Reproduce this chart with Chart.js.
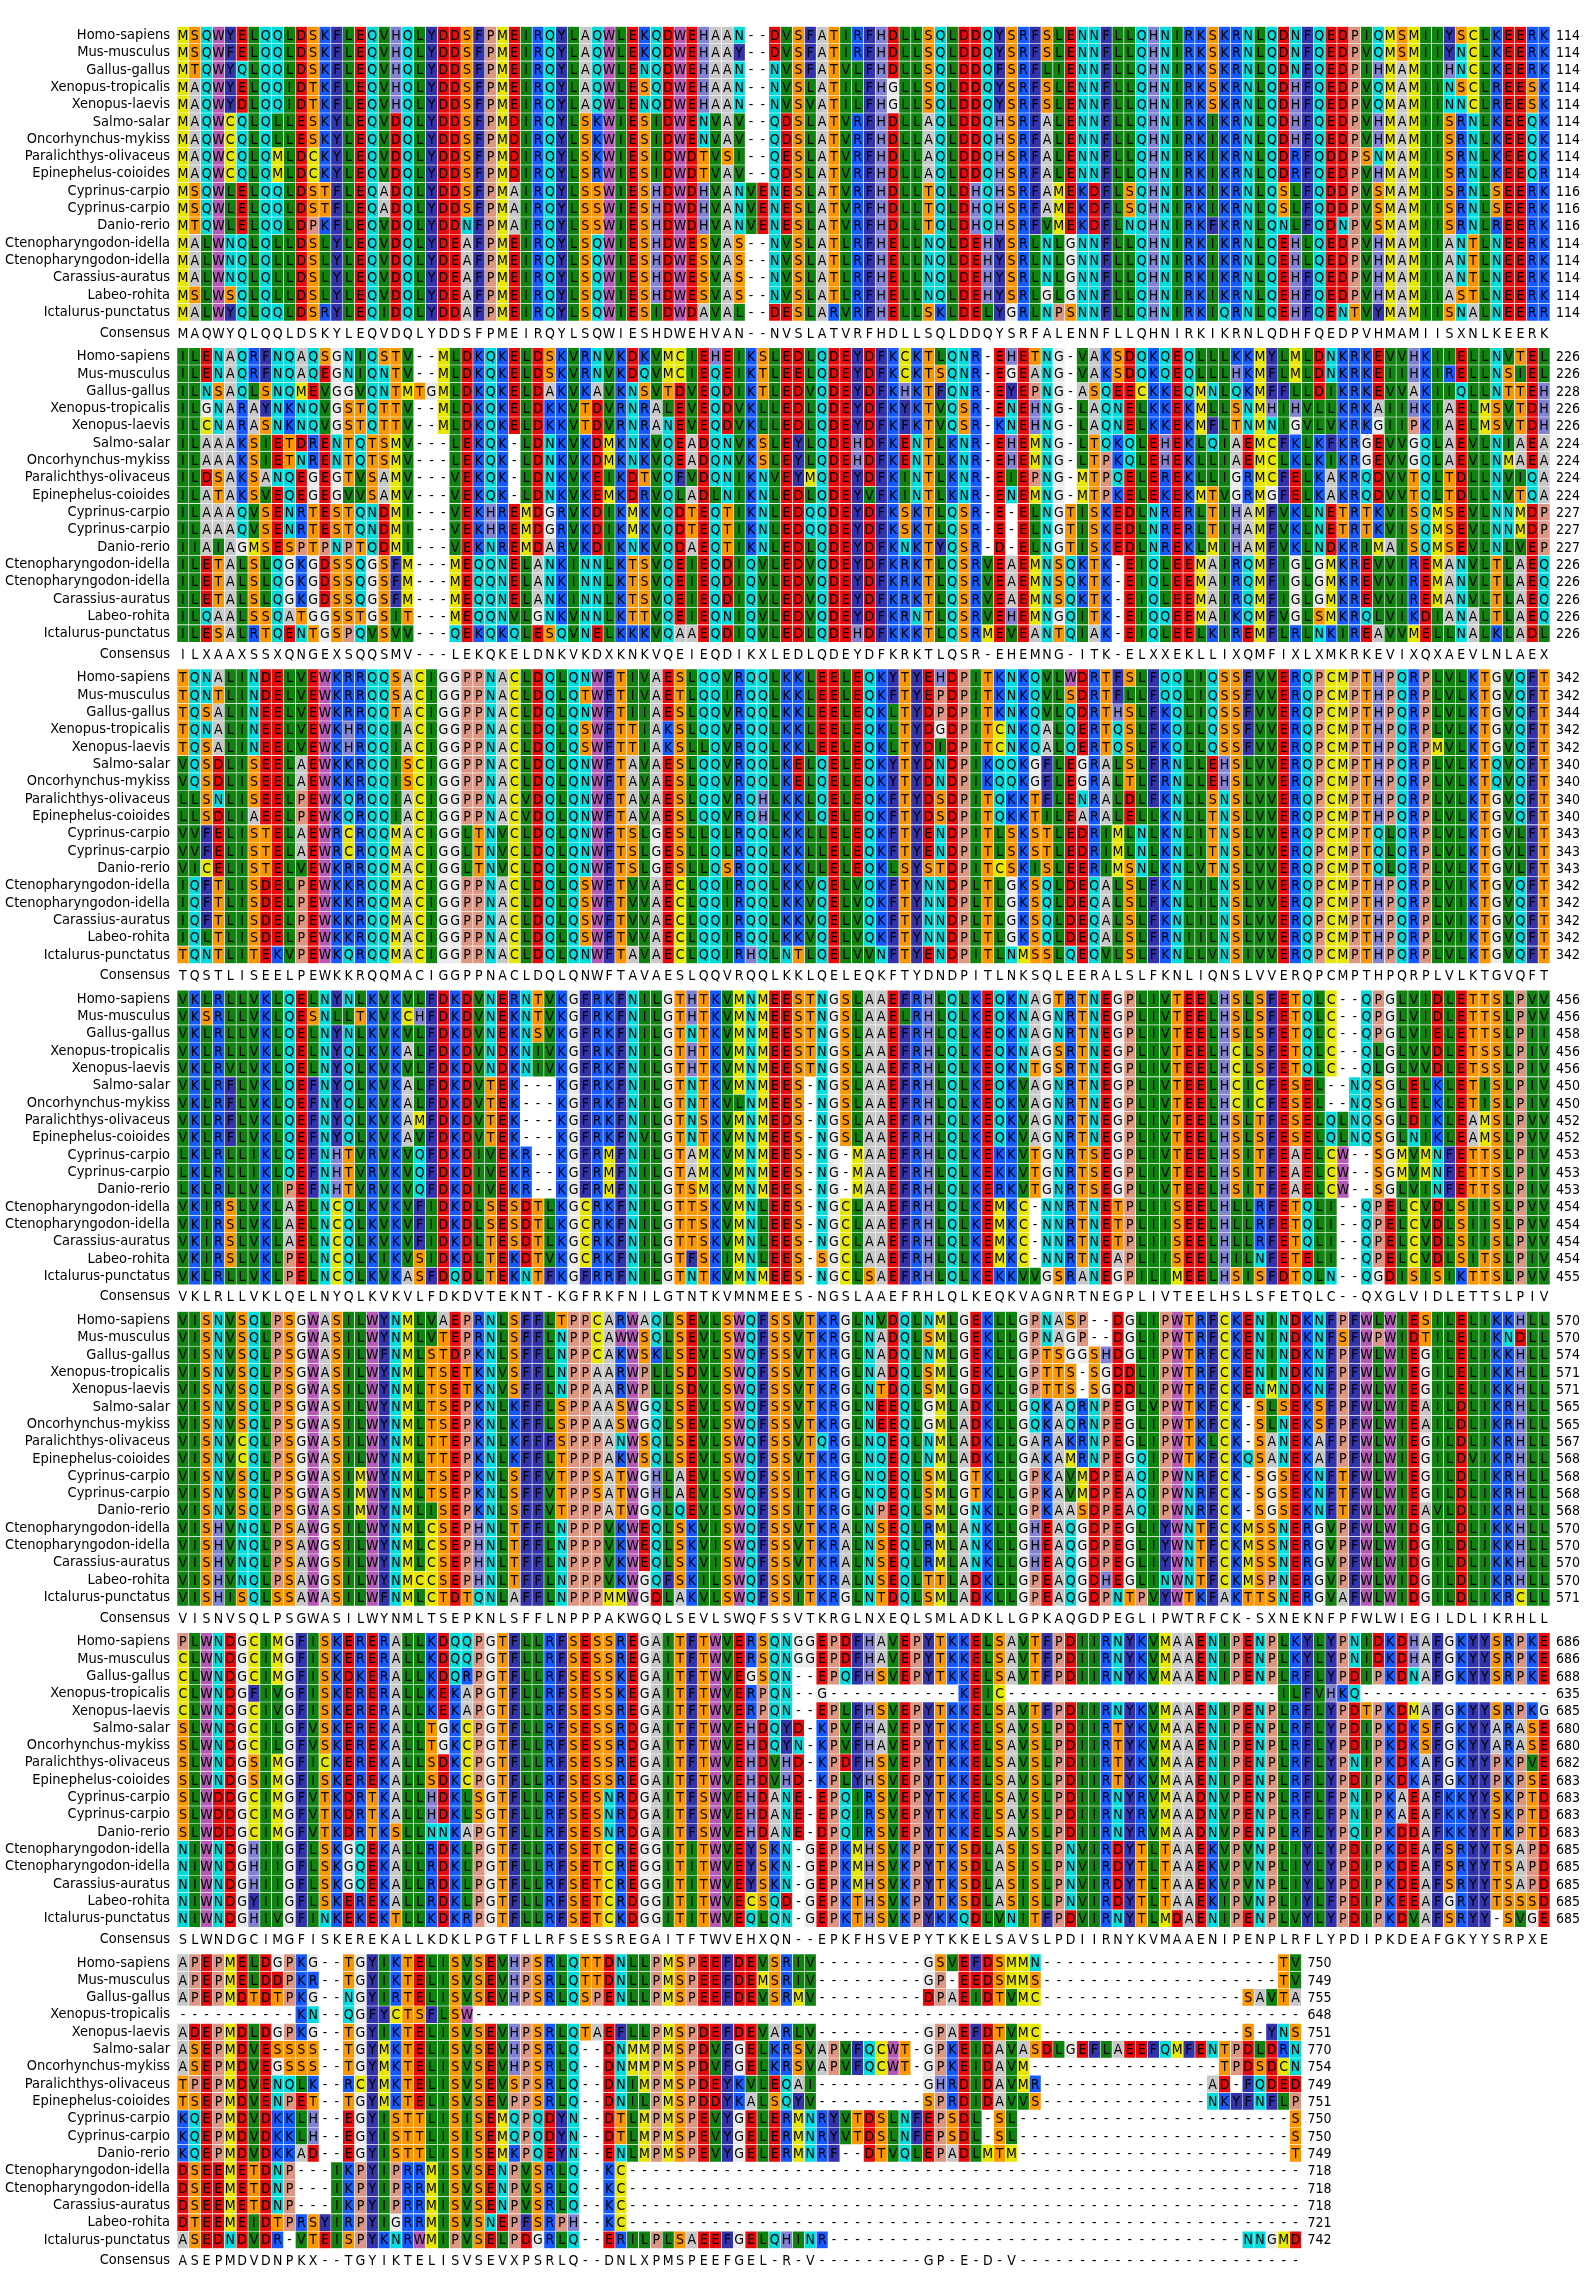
<!DOCTYPE html>
<html>
<head>
<meta charset="utf-8">
<title>STAT1 multiple sequence alignment</title>
<script src="https://cdn.jsdelivr.net/npm/chart.js@4.4.1/dist/chart.umd.min.js"></script>
<style>
  html, body { margin: 0; padding: 0; background: #ffffff; }
  #wrap { width: 1585px; height: 2295px; position: relative; }
  #warn { position: absolute; left: 600px; top: 0; color: red; font: 20px sans-serif; }
</style>
</head>
<body>
<div id="wrap"><canvas id="msa" width="1585" height="2295"></canvas><div id="warn"></div></div>
<script>
// species, top to bottom
const species = ['Homo-sapiens', 'Mus-musculus', 'Gallus-gallus', 'Xenopus-tropicalis', 'Xenopus-laevis',
  'Salmo-salar', 'Oncorhynchus-mykiss', 'Paralichthys-olivaceus', 'Epinephelus-coioides',
  'Cyprinus-carpio', 'Cyprinus-carpio', 'Danio-rerio', 'Ctenopharyngodon-idella',
  'Ctenopharyngodon-idella', 'Carassius-auratus', 'Labeo-rohita', 'Ictalurus-punctatus'];

// aligned residues, one string per species in each block
const block1 = [
  'MSQWYELQQLDSKFLEQVHQLYDDSFPMEIRQYLAQWLEKQDWEHAAN--DVSFATIRFHDLLSQLDDQYSRFSLENNFLLQHNIRKSKRNLQDNFQEDPIQMSMIIYSCLKEERK',
  'MSQWFELQQLDSKFLEQVHQLYDDSFPMEIRQYLAQWLEKQDWEHAAY--DVSFATIRFHDLLSQLDDQYSRFSLENNFLLQHNIRKSKRNLQDNFQEDPVQMSMIIYNCLKEERK',
  'MTQWYQLQQLDSKFLEQVHQLYDDSFPMEIRQYLAQWLENQDWEHAAN--NVSFATVLFHDLLSQLDDQFSRFLIENNFLLQHNIRKSKRNLQDNFQEDPIHMAMIIHNCLKEERK',
  'MAQWYELQQIDTKFLEQVHQLYDDSFPMEIRQYLAQWLESQDWEHAAN--NVSLATILFHGLLSQLDDQYSRFSLENNFLLQHNIRKSKRNLQDHFQEDPVQMAMIINSCLREESK',
  'MAQWYDLQQIDTKFLEQVHQLYDDSFPMEIRQYLAQWLENQDWEHAAN--NVSVATILFHGLLSQLDDQYSRFSLENNFLLQHNIRKSKRNLQDHFQEDPVQMAMIINNCLREESK',
  'MAQWCQLQLLESKYLEQVDQLYDDSFPMDIRQYLSKWIESIDWENVAV--QDSLATVRFHDLLAQLDDQHSRFALENNFLLQHNIRKIKRNLQDHFQEDPVHMAMIISRNLKEEQK',
  'MAQWCQLQLLESKYLEQVDQLYDDSFPMDIRQYLSKWIESIDWENVAV--QDSLATVRFHDLLAQLDDQHSRFALENNFLLQHNIRKIKRNLQDHFQEDPVHMAMIISRNLKEEQK',
  'MAQWCQLQMLDCKYLEQVDQLYDDSFPMDIRQYLSKWIESIDWDTVSI--QESLATVRFHDLLAQLDDQHSRFALENNFLLQHNIRKIKRNLQDRFQDDPSNMAMIISRNLKEEQK',
  'MAQWCQLQMLDCKYLEQVDQLYDDSFPMDIRQYLSRWIESIDWDTVAV--QDSLATVRFHDLLAQLDDQHSRFALENNFLLQHNIRKIKRNLQDRFQEDPVHMAMIISRNLKEEQR',
  'MSQWLELQQLDSTFLEQADQLYDDSFPMAIRQYLSSWIESHDWDHVANVENESLATVRFHDLLTQLDHQHSRFAMEKDFLSQHNIRKIKRNLQSLFQDDPVSMAMIISRNLSEERK',
  'MSQWLELQQLDSTFLEQADQLYDDSFPMAIRQYLSSWIESHDWDHVANVENESLATVRFHDLLTQLDHQHSRFAMEKDFLSQHNIRKIKRNLQSLFQDDPVSMAMIISRNLSEERK',
  'MTQWLELQQLDPKFLEQVDQLYDDNFPMAIRQYLSSWIESHDWDHVANVENESLATVRFHDLLTQLDHQHSRFVMEKDFLNQHNIRKFKRNLQNLFQDNPVSMAMIISRNLREERK',
  'MALWNQLQLLDSLYLEQVDQLYDEAFPMEIRQYLSQWIESHDWESVAS--NVSLATLRFHELLNQLDEHYSRLNLGNNFLLQHNIRKIKRNLQEHLQEDPVHMAMIIANTLNEERK',
  'MALWNQLQLLDSLYLEQVDQLYDEAFPMEIRQYLSQWIESHDWESVAS--NVSLATLRFHELLNQLDEHYSRLNLGNNFLLQHNIRKIKRNLQEHLQEDPVHMAMIIANTLNEERK',
  'MALWNQLQLLDSLYLEQVDQLYDEAFPMEIRQYLSQWIESHDWESVAS--NVSLATLRFHELLNQLDEHYSRLNLGNNFLLQHNIRKIKRNLQEHFQEDPVHMAMIIANTLNEERK',
  'MSLWSQLQLLDSLYLEQVDQLYDEAFPMEIRQYLSQWIESHDWESVAS--NVSLATLRFHELLNQLDEHYSRLGLGNNFLLQHNIRKIKRNLQEHFQEDPVHMAMIIASTLNEERK',
  'MALWYQLQQLDSRYLEQIDQLYDDAFPMEIRQYLSQWIESIDWDAVAL--DESLARVRFHELLSKLDELYGRLNPSNNFLLQHNIRKIQRNLQEHFQENTVYMAMIISNALNEERR'];

const block2 = [
  'ILENAQRFNQAQSGNIQSTV--MLDKQKELDSKVRNVKDKVMCIEHEIKSLEDLQDEYDFKCKTLQNR-EHETNG-VAKSDQKQEQLLLKKMYLMLDNKRKEVVHKIIELLNVTEL',
  'ILENAQRFNQAQEGNIQNTV--MLDKQKELDSKVRNVKDQVMCIEQEIKTLEELQDEYDFKCKTSQNR-EGEANG-VAKSDQKQEQLLLHKMFLMLDNKRKEIIHKIRELLNSIEL',
  'ILNSAQLSNQMEVGGVQNTMTGMLDKQKELDAKVKAVKNSVTDVEQDIKTLEDVQDEYDFKHKTFQNR-EYEPNG-ASQEECKKEQMNLQKMFFLLDIKRKEVVAKIIQLLNTTEH',
  'ILGNARAYNKNQVGSTQTTV--MLDKQKELDKKVTDVRNRALEVEQDVKLLEDLQDEYDFKYKTVQSR-ENEHNG-LAQNELKKEKMLLSNMHIHVLLKRKAIIHKIAELMSVTDH',
  'ILCNARASNKNQVGSTQTTV--MLDKQKELDKKVTDVRNRANEVEQDVKLLEDLQDEYDFKFKTVQSR-KNEHNG-LAQNELKKEKMFLTNMNIGVLVKRKGIIPKIAELMSVTDH',
  'ILAAAKSIETDRENTQTSMV---LEKQK-LDNKVKDMKNKVQEADQNVKSLEYLQDEHDFKENTLKNR-EHEMNG-LTQKQLEHEKLQIAEMCFKLKFKRGEVVGQLAEVLNIAEA',
  'ILAAAKSIETNRENTQTSMV---LEKQK-LDNKVKDMKNKVQEADQNVKSLEYLQDEHDFKENTLKNR-EHEMNG-LTPKQLEHEKLLIAEMCLKLKIKRGEVVGQLAEVLNMAEA',
  'ILDSAKSANQEGEGTVSAMV---VEKQK-LDNKVKEIKDTVQFVDQNIKNVEYMQDEYDFKINTLKNR-EIEPNG-MTPQELEREKLLIGRMCFELKAKRQDVVTQLTDLLNVIQA',
  'ILATAKSVEQEGEGVVSAMV---VEKQK-LDNKVKEMKDRVQLADLNIKNLEDLQDEYVFKINTLKNR-ENEMNG-MTPKELEKEKMTVGRMGFELKAKRQDVVTQLTDLLNVTQA',
  'ILAAAQVSENRTESTQNDMI---VEKHREMDGRVKDIKMKVQDTEQTIKNLEDQQDEYDFKSKTLQSR-E-ELNGTISKEDLNRERLTIHAMFVKLNETRTKVISQMSEVLNNMDP',
  'ILAAAQVSENRTESTQNDMI---VEKHREMDGRVKDIKMKVQDTEQTIKNLEDQQDEYDFKSKTLQSR-E-ELNGTISKEDLNRERLTIHAMFVKLNETRTKVISQMSEVLNNMDP',
  'IIAIAGMSESPTPNPTQDMI---VEKNREMDARVKDIKNKVQDAEQTIKNLEDLQDEYDFKNKTYQSR-D-ELNGTISKEDLNREKLMIHAMFVKLNDKRIMAISQMSEVLNLVEP',
  'ILETALSLQGKGDSSQGSFM---MEQQNELANKINNLKTSVQEIEQDIQVLEDVQDEYDFKRKTLQSRVEAEMNSQKTK-EIQLEEMAIRQMFIGLGMKREVVIREMANVLTLAEQ',
  'ILETALSLQGKGDSSQGSFM---MEQQNELANKINNLKTSVQEIEQDIQVLEDVQDEYDFKRKTLQSRVEAEMNSQKTK-EIQLEEMAIRQMFIGLGMKREVVIREMANVLTLAEQ',
  'ILETALSLQGKGDSSQGSFM---MEQQNELANKINNLKTSVQEIEQDIQVLEDVQDEYDFKRKTLQSRVEAEMNSQKTK-EIQLEEMAIRQMFIGLGMKREVVIREMANVLTLAEQ',
  'ILQAALSSQATGGSSTGSIT---MEQQNVLGNKVNNLKTTVQEIEQNIQVLEDVQDEYDFKRNTLQSRVEHEMNGQITK-EIQQEEMAIKQMFVGLSMKRQLVIKDIANALTLAEQ',
  'ILESALRTQENTGSPQVSVV---QEKQKQLESQVNELKKKVQAAEQDIQVLEDLQDEHDFKKKTLQSRMEVEANTQIAK-EIQLEELKIREMFLRLNKIREAVVMELLNALKLADL'];

const block3 = [
  'TQNALINDELVEWKRRQQSACIGGPPNACLDQLQNWFTIVAESLQQVRQQLKKLEELEQKYTYEHDPITKNKQVLWDRTFSLFQQLIQSSFVVERQPCMPTHPQRPLVLKTGVQFT',
  'TQNTLINDELVEWKRRQQSACIGGPPNACLDQLQTWFTIVAETLQQIRQQLKKLEELEQKFTYEPDPITKNKQVLSDRTFLLFQQLIQSSFVVERQPCMPTHPQRPLVLKTGVQFT',
  'TQSALINEELVEWKRRQQTACIGGPPNACLDQLQNWFTIIAESLQQVRQQLKKLEELEQKLTYDPDPITKNKQVLQDRTHSLFKQLIQSSFVVERQPCMPTHPQRPLVLKTGVQFT',
  'TQNALINEELVEWKHRQQIACIGGPPNACLDQLQSWFTTIAKSLQQVRQQLKKLEELEQKLTYDGDPITCNKQALQERTQSLFKQLLQSSFVVERQPCMPTHPQRPLVLKTGVQFT',
  'TQSALINEELVEWKHRQQIACIGGPPNACLDQLQSWFTTIAKSLLQVRQQLKKLEELEQKLTYDIDPITCNKQALQERTQSLFKQLLQSSFVVERQPCMPTHPQRPMVLKTGVQFT',
  'VQSDLISEELAEWKKRQQISCIGGPPNACLDQLQNWFTAVAESLQQVRQQLKELQELEQKYTYDNDPIKQQKGFLEGRALSLFRNLLEHSLVVERQPCMPTHPQRPLVLKTQVQFT',
  'VQSDLISEELAEWKKRQQISCIGGPPNACLDQLQNWFTAVAESLQQVRQQLKELQELEQKYTYDNDPIKQQKGFLEGRALTLFRNLLEHSLVVERQPCMPTHPQRPLVLKTQVQFT',
  'LLSNLISEELPEWKQRQQIACIGGPPNACVDQLQNWFTAVAESLQQVRQHLKKLQELEQKFTYDSDPITQKKTFLENRALDLFKNLLSNSLVVERQPCMPTHPQRPLVLKTGVQFT',
  'LLSDLIAEELPEWKQRQQIACIGGPPNACVDQLQNWFTAVAESLQQVRQHLKKLQELEQKFTYDSDPITQKKTILEARALELLKNLLTNSLVVERQPCMPTHPQRPLVLKTGVQFT',
  'VVFELISTELAEWRCRQQMACIGGLTNVCLDQLQNWFTSLGESLLQLRQQLKKLLELEQKFTYENDPITLSKSTLEDRIMLNLKNLITNSLVVERQPCMPTQLQRPLVLKTGVLFT',
  'VVFELISTELAEWRCRQQMACIGGLTNVCLDQLQNWFTSLGESLLQLRQQLKKLLELEQKFTYENDPITLSKSTLEDRIMLNLKNLITNSLVVERQPCMPTQLQRPLVLKTGVLFT',
  'VICELISTELVEWKRRQQMACIGGLTNVCLDQLQNWFTSLGESLLQSRQQLKKLLELEQKLSYSTDPITCSKISLEERIMSNLKNLVTNSLVVERQPCMPTQLQRPLVLKTGVLFT',
  'IQFTLISDELPEWKKRQQMACIGGPPNACLDQLQSWFTVVAECLQQIRQQLKKVQELVQKFTYNNDPLTLGKSQLDEQALSLFKNLILNSLVVERQPCMPTHPQRPLVIKTGVQFT',
  'IQFTLISDELPEWKKRQQMACIGGPPNACLDQLQSWFTVVAECLQQIRQQLKKVQELVQKFTYNNDPLTLGKSQLDEQALSLFKNLILNSLVVERQPCMPTHPQRPLVIKTGVQFT',
  'IQFTLISDELPEWKKRQQMACIGGPPNACLDQLQSWFTVVAECLQQIRQQLKKVQELVQKFTYNNDPLTLGKSQLDEQALSLFKNLILNSLVVERQPCMPTHPQRPLVIKTGVQFT',
  'IQLTLISDELPEWKKRQQMACIGGPPNACLDQLQSWFTVVAECLQQIRQQLKKVQELVQKFTYNNDPLTLGKSQLDEQALSLFRNIILNSLVVERQPCMPTHPQRPLVIKTGVQFT',
  'TQNTLITEKVPEWKQRQQMACIGGPPNACLDQLQNWFTAVAECLQQIRHQLNTLQELVVNFTYENDPITLNMSSLQEQVLSLFKNLLVNSIVVERQPCMPTHPQRPLVLKTGVQFT'];

const block4 = [
  'VKLRLLVKLQELNYNLKVKVLFDKDVNERNTVKGFRKFNILGTHTKVMNMEESTNGSLAAEFRHLQLKEQKNAGTRTNEGPLIVTEELHSLSFETQLC--QPGLVIDLETTSLPVV',
  'VKSRLLVKLQESNLLTKVKCHFDKDVNEKNTVKGFRKFNILGTHTKVMNMEESTNGSLAAELRHLQLKEQKNAGNRTNEGPLIVTEELHSLSFETQLC--QPGLVIDLETTSLPVV',
  'VKLRLLVKLQELNYNLKVKVLFDKDVNEKNSVKGFRKFNILGTNTKVMNMEESTNGSLAAEFRHLQLKEQKNAGNRTNEGPLIVTEELHSLSFETQLC--QPGLVIELETTSLPII',
  'VKLRLLVKLQELNYQLKVKALFDKDVNDKNIVKGFRKFNILGTHTKVMNMEESTNGSLAAEFRHLQLKEQKNAGSRTNEGPLIVTEELHCLSFETQLC--QLGLVVDLETSSLPIV',
  'VKLRVLVKLQELNYQLKVKVLFDKDVNDKNIVKGFRKFNILGTHTKVMNMEESTNGSLAAEFRHLQLKEQKNTGSRTNEGPLIVTEELHCLSFETQLC--QLGLVVDLETSSLPIV',
  'VKLRFLVKLQEFNYQLKVKALFDKDVTEK---KGFRKFNILGTNTKVMNMEES-NGSLAAEFRHLQLKEQKVAGNRTNEGPLIVTEELHCICFESEL--NQSGLELKLETISLPIV',
  'VKLRFLVKLQEFNYQLKVKALFDKDVTEK---KGFRKFNILGTNTKVLNMEES-NGSLAAEFRHLQLKEQKVAGNRTNEGPLIVTEELHCICFESEL--NQSGLELKLETISLPIV',
  'VKLRFLVKLQEFNYQLKVKAMFDKDVTEK---KGFRKFNILGTNSKVMNMEDS-NGSLAAEFRHLQLKEQKVAGNRTNEGPLIVTEELHSLTFESELQLNQSGLDIKLEAMSLPVV',
  'VKLRFLVKLQEFNYQLKVKAVFDKDVTEK---KGFRKFNVLGTNTKVMNMEES-NGSLAAEFRHLQLKEQKVAGNRTNEGPLIVTEELHSLSFESELQLNQSGLNIKLEAMSLPVV',
  'LKLRLLIKLQEFNHTVRVKVQFDKDIVEKR--KGFRMFNILGTAMKVMNMEES-NG-MAAEFRHLQLKEKKVTGNRTSEGPLIVTEELHSITFEAELCW--SGMVMNFETTSLPIV',
  'LKLRLLIKLQEFNHTVRVKVQFDKDIVEKR--KGFRMFNILGTAMKVMNMEES-NG-MAAEFRHLQLKEKKVTGNRTSEGPLIVTEELHSITFEAELCW--SGMVMNFETTSLPIV',
  'LKLRLLVKIPEFNHTVRVKVQFDKDIVEKR--KGFRMFNILGTSMKVMNMEES-NG-MAAEFRHLQLKERKVTGNRTSEGPLIVTEELHSITFEAELCW--SGLVINFETTSLPIV',
  'VKIRSLVKLAELNCQLKVKVFIDKDLSESDTLKGCRKFNILGTTSKVMNLEES-NGCLAAEFRHLQLKEMKC-NNRTNETPLIISEELHLLRFETQLI--QPELCVDLSIISLPVV',
  'VKIRSLVKLAELNCQLKVKVFIDKDLSESDTLKGCRKFNILGTTSKVMNLEES-NGCLAAEFRHLQLKEMKC-NNRTNETPLIISEELHLLRFETQLI--QPELCVDLSIISLPVV',
  'VKIRSLVKLAELNCQLKVKVFIDKDLTESDTLKGCRKFNILGTTSKVMNLEES-NGCLAAEFRHLQLKEMKC-NNRTNETPLIISEELHLLRFETQLI--QPELCVDLSIISLPVV',
  'VKIRSLVKLPELNCQLKIKVSIDKDLTEKDTVKGCRKFNILGTFSKIMNLEES-SGCLAAEFRHLQLKEMKC-NNRTNEAPLIISEELHILNFETELI--QPELCVDLSITSLPIV',
  'VKLRLLVKLPELNCQLKVKASFDQDLTEKNTFKGFRRFNILGTNTKVMNMEES-NGCLSAEFRHLQLKEKKVVGSRANEGPILIMEELHSISFDTQLN--QGDISISIKTTSLPVV'];

const block5 = [
  'VISNVSQLPSGWASILWYNMLVAEPRNLSFFLTPPCARWAQLSEVLSWQFSSVTKRGLNVDQLNMLGEKLLGPNASP--DGLIPWTRFCKENINDKNFPFWLWIESILELIKKHLL',
  'VISNVSQLPSGWASILWYNMLVTEPRNLSFFLNPPCAWWSQLSEVLSWQFSSVTKRGLNADQLSMLGEKLLGPNAGP--DGLIPWTRFCKENINDKNFSFWPWIDTILELIKNDLL',
  'VISNVSQLPSGWASILWFNMLSTDPKNLSFFLNPPCAKWSKLSEVLSWQFSSVTKRGLNADQLNMLGEKLLGPTSGGSHDGLIPWTRFCKENINDKNFPFWLWIEGILELIKKHLL',
  'VISNVSQLPSGWASILWYNMLTSETKNVSFFLNPPAARWPLLSDVLSWQFSSVTKRGLNADQLSMLGEKLLGPTTS-SGDDLIPWTRFCKENINDKNFPFWLWIEGILELIKKHLL',
  'VISNVSQLPSGWASILWYNMLTSETKNVSFFLNPPAARWPLLSDVLSWQFSSVTKRGLNTDQLSMLGDKLLGPTTS-SGDDLIPWTRFCKENMNDKNFPFWLWIEGILELIKKHLL',
  'VISNVSQLPSGWASILWYNMLTSEPKNLKFFLSPPAASWGQLSEVLSWQFSSVTKRGLNEEQLGMLADKLLGQKAQRNPEGLVPWTKFCK-SLSEKSFPFWLWIEAILDLIKRHLL',
  'VISNVSQLPSGWASILWYNMLTSEPKNLKFFLSPPAASWGQLSEVLSWQFSSVTKRGLNEEQLGMLADKLLGQKAQRNPEGLIPWTKFCK-SLNEKSFPFWLWIEAILDLIKRHLL',
  'VISNVCQLPSGWASILWYNMLTTEPKNLKFFFSPPPANWSQLSEVLSWQFSSVTQRGLNQEQLNMLADKLLGARAKRNPEGLIPWTKLCK-SANEKAFPFWLWIEGILDLIKRHLL',
  'VISNVCQLPSGWASILWYNMLTTEPKNLKFFLTPPPAKWSQLSEVLSWQFSSVTKRGLNQEQLNMLADKLLGAKAMRNPEGQIPWTKFCKQSANEKAFPFWLWIEGILDVIKRHLL',
  'VISNVSQLPSGWASIMWYNMLTSEPKNLSFFVTPPSATWGHLAEVLSWQFSSITKRGLNQEQLSMLGTKLLGPKAVMDPEAQIPWNRFCK-SGSEKNFTFWLWIEGILDLIKRHLL',
  'VISNVSQLPSGWASIMWYNMLTSEPKNLSFFVTPPSATWGHLAEVLSWQFSSITKRGLNQEQLSMLGTKLLGPKAVMDPEAQIPWNRFCK-SGSEKNFTFWLWIEGILDLIKRHLL',
  'VISNVSQLPSGWASIMWYNMLISEPKNLSFFVTPPPATWGQLQEVLSWQFSSITKRGLNPEQLSMLGNKLLGPKAASDPEAQIPWNRFCK-SGSEKNFTFWLWIEAVLDLIKRHLL',
  'VISHVNQLPSAWGSILWYNMLCSEPHNLTFFLNPPPVKWEQLSKVISWQFSSVTKRALNSEQLRMLANKLLGHEAQGDPEGLIYWNTFCKMSSNERGVPFWLWIDGILDLIKKHLL',
  'VISHVNQLPSAWGSILWYNMLCSEPHNLTFFLNPPPVKWEQLSKVISWQFSSVTKRALNSEQLRMLANKLLGHEAQGDPEGLIYWNTFCKMSSNERGVPFWLWIDGILDLIKKHLL',
  'VISHVNQLPSAWGSILWYNMLCSEPHNLTFFLNPPPVKWEQLSKVISWQFSSVTKRALNSEQLRMLANKLLGHEAQGDPEGLIYWNTFCKMSSNERGVPFWLWIDGILDLIKKHLL',
  'VISHVNQLPSAWGSILWYNMCCSEPHNLTFFLNPPPVKWGQFSKILSWQFSSVTKRALNSEQLTTLADKLLGPEAQGDHEGLINWNTFCKMSPNERGVPFWLWIDGILDLIKRHLL',
  'VISHISQLSSAWASILWFNMLCTDTQNLAFFLNPPPMMWGDLAKVLSWQFSSITKRGLNTDQLSMLADKLLGPEAQGDPNTPVYWTKFAKTTSNERGVAFWLWIDGILDLIKRCLL'];

const block6 = [
  'PLWNDGCIMGFISKERERALLKDQQPGTFLLRFSESSREGAITFTWVERSQNGGEPDFHAVEPYTKKELSAVTFPDIIRNYKVMAAENIPENPLKYLYPNIDKDHAFGKYYSRPKE',
  'CLWNDGCIMGFISKERERALLKDQQPGTFLLRFSESSREGAITFTWVERSQNGGEPDFHAVEPYTKKELSAVTFPDIIRNYKVMAAENIPENPLKYLYPNIDKDHAFGKYYSRPKE',
  'CLWNDGCIMGFISKDKERALLKDQRPGTFLLRFSESSKEGAITFTWVEGSQN--EPQFHSVEPYTKKELSAVTFPDIIRNYKVMAAENIPENPLRFLYPDIPKDNAFGKYYSRPKE',
  'CLWNDGFIVGFISKERERALLKEKAPGTFLLRFSESSKEGAITFTWVERPQN--G-----------KEIC-----------------------ILFVHKQ----------------',
  'CLWNDGCIVGFISKERERALLKEKAPGTFLLRFSESSREGAITFTWVERPQN--EPLFHSVEPYTKKELSAVTFPDIIRNYKVMAAENIPENPLRFLYPDTPKDMAFGKYYSRPKG',
  'SLWNDGCILGFVSKEREKALLTGKCPGTFLLRFSESSRDGAITFTWVEHDQYD-KPVFHAVEPYTKKELSAVSLPDIIRTYKVMAAENIPENPLRFLYPDIPKDKSFGKYYARASE',
  'SLWNDGCILGFVSKEREKALLTGKCPGTFLLRFSESSRDGAITFTWVEHDQYN-KPVFHAVEPYTKKELSAVSLPDIIRTYKVMAAENIPENPLRFLYPDIPKDKSFGKYYARASE',
  'SLWNDGSIMGFICKEREKALLSDKCPGTFLLRFSESSREGAITFTWVEHDVHD-KPDFHSVEPYTKKELSAVSLPDIIRTYKVMAAENIPENPLRFLYPNIPKDKAFGKYYPKPVE',
  'SLWNDGSIMGFISKEREKALLSDKCPGTFLLRFSESSREGAITFTWVEHDVHD-KPLYHSVEPYTKKELSAVSLPDIIRTYKVMAAENIPENPLRFLYPDIPKDKAFGKYYPKPSE',
  'SLWDDGCIMGFVTKDRTKALLHDKLSGTFLLRFSESNRDGAITFSWVEHDANE-EPQIRSVEPYTKKELSAVSLPDIIRNYRVMAADNVPENPLRFLFPNIPKAEAFKKYYSKPTD',
  'SLWDDGCIMGFVTKDRTKALLHDKLSGTFLLRFSESNRDGAITFSWVEHDANE-EPQIRSVEPYTKKELSAVSLPDIIRNYRVMAADNVPENPLRFLFPNIPKAEAFKKYYSKPTD',
  'SLWDDGCIMGFVTKDRTKSLLNNKAPGTFLLRFSESNRDGAITFSWVEHDANE-DPQIRSVEPYTKKELSAVSLPDIIRNYRVMAADNVPENPLRFLYPQIPKDDAFKKYYTKPTD',
  'NIWNDGHIIGFLSKGQEKALLRDKLPGTFLLRFSETCREGGITITWVEYSKN-GEPKMHSVKPYTKSDLASISLPNVIRDYTLTAAEKVPVNPLIYLYPDIPKDEAFSRYYTSAPD',
  'NIWNDGHIIGFLSKGQEKALLRDKLPGTFLLRFSETCREGGITITWVEYSKN-GEPKMHSVKPYTKSDLASISLPNVIRDYTLTAAEKVPVNPLIYLYPDIPKDEAFSRYYTSAPD',
  'NIWNDGHIIGFLSKGQEKALLRDKLPGTFLLRFSETCREGGITITWVEYSKN-GEPKMHSVKPYTKSDLASISLPNVIRDYTLTAAEKVPVNPLIYLYPDIPKDEAFSRYYTSAPD',
  'NIWNDGYIIGFLSKEREKALLRDKLPGTFLLRFSETCRDGGITITWVECSQD-GEPKTHSVKPYTKSDLASISLPNVIRDYTLTAAEKIPVNPLIYLFPDIPKEEAFGRYYTSSSD',
  'NIWNDGHIVGFINKEKEKTLLKDKRPGTFLLRFSETCKDGGITITWVEQLQN-GEPKTHSVKPYKKQDLVNITFPDVIRNYTLMDAENIPENPLVYLYPDIPKDVAFSRYY-SVGE'];

const block7 = [
  'APEPMELDGPKG--TGYIKTELISVSEVHPSRLQTTDNLLPMSPEEFDEVSRIV---------GSVEFDSMMN--------------------TV',
  'APEPMELDDPKR--TGYIKTELISVSEVHPSRLQTTDNLLPMSPEEFDEMSRIV---------GP-EEDSMMS--------------------TV',
  'APEPMDTDTPKG--NGYIRTELISVSEVHPSRLQSPENLLPMSPEEFDEVSRMV---------DPAEIDTVMC-----------------SAVTA',
  '----------KN--QGFYCTSFLSW',
  'ADEPMDLDGPKG--TGYIKTELISVSEVHPSRLQTAEFLLPMSPDEFDEVARLV---------GPAEFDTVMC-----------------S-YNS',
  'ASEPMDVESSSS--TGYMKTELISVSEVHPSRLQ--DNMMPMSPDVFGELKRSVAPVFQCWT-GPKEIDAVASDLGEFLAEEFQMFENTPDLDRN',
  'ASEPMDVEGSSS--TGYMKTELISVSEVHPSRLQ--DNMMPMSPDVFGELKRSVAPVFQCWT-GPKEIDAVM----------------TPDSDCN',
  'TPEPMDVENQLK--RCYMKTELISVSEVSPSRLQ--DNIMPMSPDEYKVLEQAI---------GHRDIDAVMR--------------AD-FQDED',
  'TSEPMDVENPET--TGYMKTELISVSEVPPSRLQ--DNILPMSPDDYKALSQYV---------SPRDIDAVVS--------------NKYFNFLP',
  'KQEPMDVDKKLH--EGYISTTLISISEMQPQDYN--DTLMPMSPEVYGELERMNRYVTDSLNFEPSDL-SL-----------------------S',
  'KQEPMDVDKKLH--EGYISTTLISISEMQPQDYN--DTLMPMSPEVYGELERMNRYVTDSLNFEPSDL-SL-----------------------S',
  'KQEPMDVDKKAD--EGYISTTLISISEMKPQEYN--ENLMPMSPEVYGELERMNRF--DTVQLEPADLMTM-----------------------T',
  'DSEEMETDNP---IKPYIPRRMISVSENPVSRLQ--KC',
  'DSEEMETDNP---IKPYIPRRMISVSENPVSRLQ--KC',
  'DSEEMETDNP---IKPYIPRRMISVSENPVSRLQ--KC',
  'DTEEMEIDTPRSYIRPYIGRRMISVSNEPFSRPH--KC',
  'ASEDNDVDR-VTEISPYKNRWMIPVSELPDGRLQ--ERILPLSAEEFGELQHINR-----------------------------------NNGMD'];

const consensus = [
  'MAQWYQLQQLDSKYLEQVDQLYDDSFPMEIRQYLSQWIESHDWEHVAN--NVSLATVRFHDLLSQLDDQYSRFALENNFLLQHNIRKIKRNLQDHFQEDPVHMAMIISXNLKEERK',
  'ILXAAXSSXQNGEXSQQSMV---LEKQKELDNKVKDXKNKVQEIEQDIKXLEDLQDEYDFKRKTLQSR-EHEMNG-ITK-ELXXEKLLIXQMFIXLXMKRKEVIXQXAEVLNLAEX',
  'TQSTLISEELPEWKKRQQMACIGGPPNACLDQLQNWFTAVAESLQQVRQQLKKLQELEQKFTYDNDPITLNKSQLEERALSLFKNLIQNSLVVERQPCMPTHPQRPLVLKTGVQFT',
  'VKLRLLVKLQELNYQLKVKVLFDKDVTEKNT-KGFRKFNILGTNTKVMNMEES-NGSLAAEFRHLQLKEQKVAGNRTNEGPLIVTEELHSLSFETQLC--QXGLVIDLETTSLPIV',
  'VISNVSQLPSGWASILWYNMLTSEPKNLSFFLNPPPAKWGQLSEVLSWQFSSVTKRGLNXEQLSMLADKLLGPKAQGDPEGLIPWTRFCK-SXNEKNFPFWLWIEGILDLIKRHLL',
  'SLWNDGCIMGFISKEREKALLKDKLPGTFLLRFSESSREGAITFTWVEHXQN--EPKFHSVEPYTKKELSAVSLPDIIRNYKVMAAENIPENPLRFLYPDIPKDEAFGKYYSRPXE',
  'ASEPMDVDNPKX--TGYIKTELISVSEVXPSRLQ--DNLXPMSPEEFGEL-R-V---------GP-E-D-V'];

// residue number at the end of each row
const blockEnds = [
  [114, 114, 114, 114, 114, 114, 114, 114, 114, 116, 116, 116, 114, 114, 114, 114, 114],
  [226, 226, 228, 226, 226, 224, 224, 224, 224, 227, 227, 227, 226, 226, 226, 226, 226],
  [342, 342, 344, 342, 342, 340, 340, 340, 340, 343, 343, 343, 342, 342, 342, 342, 342],
  [456, 456, 458, 456, 456, 450, 450, 452, 452, 453, 453, 453, 454, 454, 454, 454, 455],
  [570, 570, 574, 571, 571, 565, 565, 567, 568, 568, 568, 568, 570, 570, 570, 570, 571],
  [686, 686, 688, 635, 685, 680, 680, 682, 683, 683, 683, 683, 685, 685, 685, 685, 685],
  [750, 749, 755, 648, 751, 770, 754, 749, 751, 750, 750, 749, 718, 718, 718, 721, 742]];

const blockWidths = [116, 116, 116, 116, 116, 116, 95];

// Shapely amino acid colours
const residueColours = {
  D: '#e60a0a', E: '#e60a0a', C: '#e6e600', M: '#e6e600', K: '#145aff', R: '#145aff',
  S: '#fa9600', T: '#fa9600', F: '#3232aa', Y: '#3232aa', N: '#00dcdc', Q: '#00dcdc',
  G: '#ebebeb', L: '#0f820f', V: '#0f820f', I: '#0f820f', A: '#c8c8c8', W: '#b45ab4',
  H: '#8282d2', P: '#dc9682'
};

// layout of the rows on the y axis (in row units)
const BLOCK_STEP = 18.55;
const CONSENSUS_OFFSET = 17.19;

function fontAvailable(name) {
  const c = document.createElement('canvas').getContext('2d');
  const sample = 'mmmmmmmmmmlliWWQQ-0123';
  return ['monospace', 'serif'].some(base => {
    c.font = '40px ' + base;
    const w0 = c.measureText(sample).width;
    c.font = '40px "' + name + '", ' + base;
    return c.measureText(sample).width !== w0;
  });
}
const narrowFace = ['Liberation Sans Narrow', 'DejaVu Sans Condensed'].find(fontAvailable);
const family = narrowFace ? '"' + narrowFace + '", sans-serif' : 'Roboto, sans-serif';
const squeeze = narrowFace ? 1 : 0.78;

// pick label size so the longest name fits the label column
const measure = document.createElement('canvas').getContext('2d');
measure.font = '100px ' + family;
const labelSize = Math.min(16, 100 * 165 / measure.measureText('Ctenopharyngodon-idella').width);

const blocks = [block1, block2, block3, block4, block5, block6, block7];
const byColour = {};
const uncoloured = [];
const tickPos = [];
const tickText = [];
const problems = [];

blocks.forEach((rows, b) => {
  const width = blockWidths[b];
  rows.concat([consensus[b]]).forEach((seq, i) => {
    const isSpecies = i < species.length;
    const y = b * BLOCK_STEP + (isSpecies ? i : CONSENSUS_OFFSET);
    tickPos.push(y);
    tickText.push(isSpecies ? species[i] : 'Consensus');
    if (seq.length > width) problems.push('block ' + (b + 1) + ' row ' + (i + 1) + ': ' + seq.length);
    if (isSpecies && seq.length < width && b < 6) problems.push('block ' + (b + 1) + ' row ' + (i + 1) + ': ' + seq.length);
    const s = seq.padEnd(width, '-');
    for (let c = 0; c < width; c++) {
      const r = s[c];
      const cell = { x: [c, c + 1], y: y, r: r };
      const colour = isSpecies ? residueColours[r] : null;
      if (colour) (byColour[colour] = byColour[colour] || []).push(cell);
      else uncoloured.push(cell);
    }
  });
});
document.getElementById('warn').textContent = problems.join(' | ');

const datasets = Object.keys(byColour).map(colour => ({
  data: byColour[colour],
  backgroundColor: colour,
  borderColor: '#ffffff',
  borderWidth: 0.6,
  borderSkipped: false
}));
datasets.push({ data: uncoloured, backgroundColor: 'rgba(0,0,0,0)', borderWidth: 0 });

const letterPlugin = {
  id: 'residueLetters',
  afterDatasetsDraw(chart) {
    const ctx = chart.ctx;
    ctx.save();
    ctx.font = '14px ' + family;
    ctx.fillStyle = '#000000';
    ctx.textAlign = 'center';
    ctx.textBaseline = 'middle';
    chart.data.datasets.forEach((ds, i) => {
      chart.getDatasetMeta(i).data.forEach((bar, k) => {
        ctx.save();
        ctx.translate((bar.x + bar.base) / 2, bar.y + 1);
        ctx.scale(squeeze, 1);
        ctx.fillText(ds.data[k].r, 0, 0);
        ctx.restore();
      });
    });
    // residue counts at the end of each row
    const xs = chart.scales.x, ys = chart.scales.y;
    ctx.font = '14px ' + family;
    ctx.textAlign = 'left';
    blockEnds.forEach((ends, b) => {
      const x = xs.getPixelForValue(blockWidths[b]) + 6;
      ends.forEach((n, i) => {
        const y = ys.getPixelForValue(b * BLOCK_STEP + i) + 1;
        ctx.save();
        ctx.translate(x, y);
        ctx.scale(squeeze, 1);
        ctx.fillText(String(n), 0, 0);
        ctx.restore();
      });
    });
    ctx.restore();
  }
};

new Chart(document.getElementById('msa'), {
  type: 'bar',
  data: { datasets: datasets },
  options: {
    indexAxis: 'y',
    responsive: false,
    animation: false,
    events: [],
    datasets: { bar: { grouped: false, barPercentage: 1, categoryPercentage: 1 } },
    layout: { padding: { left: 0, right: 35, top: 0, bottom: 0 } },
    plugins: { legend: { display: false }, tooltip: { enabled: false } },
    scales: {
      x: { type: 'linear', min: 0, max: 116, display: false },
      y: {
        type: 'linear',
        reverse: true,
        min: -0.605,
        max: 129.06,
        afterBuildTicks: scale => { scale.ticks = tickPos.map(v => ({ value: v })); },
        afterFit: scale => { scale.width = 177; },
        grid: { display: false, drawTicks: false },
        border: { display: false },
        ticks: {
          autoSkip: false,
          padding: 7,
          color: '#000000',
          font: { family: family, size: labelSize },
          callback: (value, index) => tickText[index]
        }
      }
    }
  },
  plugins: [letterPlugin]
});
</script>
</body>
</html>
